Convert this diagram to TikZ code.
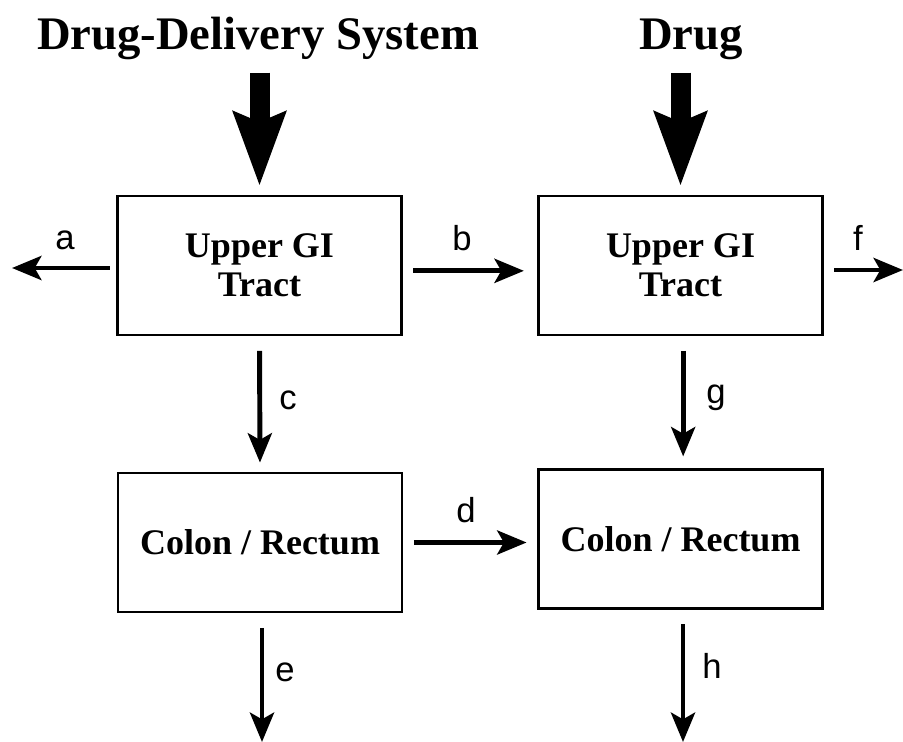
\documentclass[tikz,border=0pt]{standalone}
\usepackage{fontspec}
\setmainfont{Liberation Serif}
\setsansfont{Liberation Sans}
\usetikzlibrary{arrows.meta}

\begin{document}
\begin{tikzpicture}[
  x=0.75pt, y=-0.75pt,
  title/.style={font=\fontsize{35}{40}\selectfont\bfseries, inner sep=0pt, anchor=base},
  organ/.style={rectangle, draw, line width=1.9pt, minimum width=213pt,
                minimum height=104pt, align=center,
                font=\fontsize{27}{29}\selectfont\bfseries},
  fat/.style={line width=15pt,
              -{Stealth[length=55pt, width=38pt, inset=7pt]}},
  arr/.style={line width=3.7pt,
              -{Stealth[length=22pt, width=18pt, inset=5pt]}},
  lbl/.style={font=\sffamily\fontsize{26}{28}\selectfont}
]
  \useasboundingbox (0,0) rectangle (903,742);

  % Titles
  \node[title] (dds) at (258,50) {Drug-Delivery System};
  \node[title] (drug) at (691,50) {Drug};

  % Compartments
  \node[organ] (ul) at (259.5,265.5) {Upper GI\\Tract};
  \node[organ] (ur) at (680.5,265.5) {Upper GI\\Tract};
  \node[organ] (cl) at (260,542.5) {Colon / Rectum};
  \node[organ] (cr) at (680.5,539) {Colon / Rectum};

  % Loose ends
  \coordinate (aend) at (12,268);
  \coordinate (fend) at (903,270);
  \coordinate (eend) at (262,742);
  \coordinate (hend) at (683,742);

  % Input arrows
  \draw[fat, shorten <=9pt, shorten >=6.5pt] (dds.south -| ul.north) -- (ul.north);
  \draw[fat, shorten <=9pt, shorten >=6.5pt] (drug.south -| ur.north) -- (ur.north);

  % Transfer arrows
  \draw[arr, shorten <=5pt] (ul.west |- aend) -- (aend);
  \draw[arr, shorten <=8pt, shorten >=10pt] ([yshift=-4]ul.east) -- ([yshift=-4]ur.west);
  \draw[arr, shorten <=8pt] (ur.east |- fend) -- (fend);
  \draw[arr, shorten <=11pt, shorten >=7pt] (ul.south) -- (cl.north);
  \draw[arr, shorten <=11pt, shorten >=9pt] ([xshift=2]ur.south) -- ([xshift=2]cr.north);
  \draw[arr, shorten <=8pt, shorten >=8pt] (cl.east) -- (cr.west |- cl.east);
  \draw[arr, shorten <=11pt] (cl.south -| eend) -- (eend);
  \draw[arr, shorten <=11pt] (cr.south -| hend) -- (hend);

  % Labels
  \node[lbl] (la) at (65,240) {a};
  \node[lbl] (lb) at (462,238) {b};
  \node[lbl] (lf) at (858,238) {f};
  \node[lbl] (lc) at (288,400) {c};
  \node[lbl] (lg) at (716,398) {g};
  \node[lbl] (ld) at (466,510) {d};
  \node[lbl] (le) at (285,672) {e};
  \node[lbl] (lh) at (712,666) {h};
\end{tikzpicture}
\end{document}
